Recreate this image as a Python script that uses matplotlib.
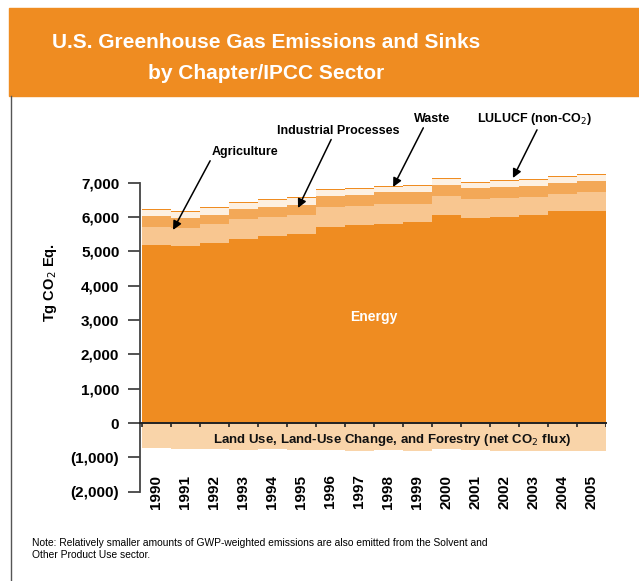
import matplotlib
matplotlib.use("Agg")
import matplotlib.pyplot as plt
from matplotlib.patches import Rectangle
import numpy as np

plt.rcParams['font.family'] = ['Liberation Sans', 'DejaVu Sans']

years = list(range(1990, 2006))
energy = [5190, 5160, 5250, 5360, 5450, 5510, 5710, 5770, 5800, 5860, 6060, 5975, 6005, 6060, 6180, 6180]
agriculture = [520, 525, 550, 580, 555, 550, 580, 550, 580, 525, 555, 550, 550, 525, 495, 550]
industrial = [320, 290, 270, 290, 290, 290, 320, 320, 350, 350, 320, 320, 320, 320, 320, 320]
waste = [170, 170, 190, 170, 200, 200, 180, 180, 150, 180, 180, 150, 180, 180, 180, 180]
lulucf_non_co2 = [25] * 16
lulucf_flux = [-730, -770, -770, -785, -770, -790, -790, -805, -780, -800, -750, -780, -800, -800, -825, -825]

c_energy = '#EF8C21'
c_agri = '#F8C690'
c_ind = '#F3A857'
c_waste = '#FDF0E1'
c_flux = '#F9D4A9'

fig = plt.figure(figsize=(6.39, 5.81), dpi=100)
W, H = 639, 581

# title box
fig.patches.append(Rectangle((9 / W, 1 - 96 / H), 1, 88 / H, transform=fig.transFigure,
                             color=c_energy, zorder=0))
fig.text(266 / W, 1 - 58 / H, "U.S. Greenhouse Gas Emissions and Sinks\nby Chapter/IPCC Sector",
         ha='center', va='center', color='white', fontsize=15, fontweight='bold', linespacing=1.75)
# left frame line
fig.add_artist(plt.Line2D([11 / W, 11 / W], [0, 1 - 96 / H], transform=fig.transFigure,
                          color='#555555', lw=1))

ax = fig.add_axes([139.5 / W, 89.3 / H, 466.5 / W, 322.7 / H])
x = np.arange(len(years))
e = np.array(energy)
a = np.array(agriculture)
i_ = np.array(industrial)
w = np.array(waste)
l = np.array(lulucf_non_co2)

ax.bar(x, e, width=1.0, color=c_energy, linewidth=0)
ax.bar(x, a, width=1.0, bottom=e, color=c_agri, linewidth=0)
ax.bar(x, i_, width=1.0, bottom=e + a, color=c_ind, linewidth=0)
ax.bar(x, w, width=1.0, bottom=e + a + i_, color=c_waste, linewidth=0)
ax.bar(x, l, width=1.0, bottom=e + a + i_ + w, color=c_energy, linewidth=0)
ax.bar(x, lulucf_flux, width=1.0, color=c_flux, linewidth=0)

ax.set_xlim(-0.586, len(years) - 0.5)
ax.set_ylim(-2000, 7400)

# zero line and year ticks at bar edges
edges = np.arange(len(years) + 1) - 0.5
ax.plot([-0.586, len(years) - 0.5], [0, 0], color='#222222', lw=1.4, zorder=5, clip_on=False)
ax.vlines(edges, -110, 0, color='#222222', lw=1.2, zorder=5)

for s in ['top', 'right', 'bottom']:
    ax.spines[s].set_visible(False)
ax.spines['left'].set_color('#444444')
ax.spines['left'].set_linewidth(1.3)
ax.spines['left'].set_bounds(-2000, 7000)
ax.set_xticks([])
yt = np.arange(-2000, 7001, 1000)
ax.set_yticks(yt)
ax.set_yticklabels(['(2,000)', '(1,000)', '0', '1,000', '2,000', '3,000', '4,000',
                    '5,000', '6,000', '7,000'], fontsize=11, fontweight='bold')
ax.tick_params(axis='y', length=8.5, width=1.3, color='#444444', pad=6)

for xi, yr in zip(x, years):
    ax.text(xi, -1500, str(yr), rotation=90, ha='center', va='top',
            fontsize=11, fontweight='bold', color='black')

ax.text(-3.67, 4080, "Tg CO$_2$ Eq.", rotation=90, ha='center', va='center',
        fontsize=10.5, fontweight='bold')
ax.text(7.5, 3090, "Energy", ha='center', va='center', color='white',
        fontsize=10, fontweight='bold')
ax.text(8.11, -490, "Land Use, Land-Use Change, and Forestry (net CO$_2$ flux)",
        ha='center', va='center', fontsize=9.5, fontweight='bold', color='#111111')

arrow = dict(arrowstyle='-|>', color='black', lw=1.1, mutation_scale=13, shrinkA=0, shrinkB=0)
notes = [
    ("Agriculture", (0.57, 5625), (3.05, 7895), (0.0, 0.0)),
    ("Industrial Processes", (4.88, 6265), (6.28, 8515), (0.45, 0.0)),
    ("Waste", (8.16, 6876), (9.5, 8855), (0.3, 0.0)),
    ("LULUCF (non-CO$_2$)", (12.29, 7138), (13.05, 8855), (0.53, 0.0)),
]
for label, tip, pos, rp in notes:
    ap = dict(arrow)
    ap['relpos'] = rp
    ax.annotate(label, xy=tip, xytext=pos, ha='center', va='center',
                fontsize=9, fontweight='bold', arrowprops=ap, annotation_clip=False)

fig.text(32 / W, 1 - 549 / H,
         "Note: Relatively smaller amounts of GWP-weighted emissions are also emitted from the Solvent and\n"
         "Other Product Use sector.", ha='left', va='center', fontsize=7.4, linespacing=1.35)

fig.savefig("out.png", dpi=100)
